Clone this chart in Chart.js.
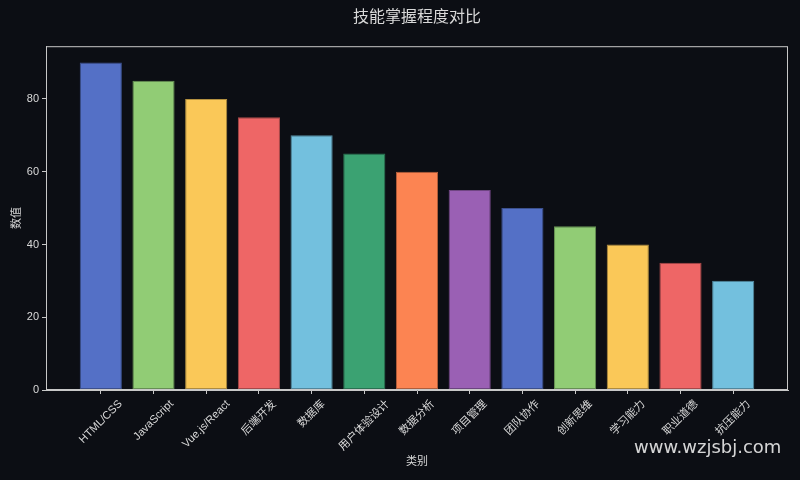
<!DOCTYPE html>
<html>
<head>
<meta charset="utf-8">
<script src="https://cdn.jsdelivr.net/npm/chart.js@4"></script>
<style>
  html, body { margin: 0; padding: 0; background: #0c0e14; }
  #wrap { position: relative; width: 800px; height: 480px; }
  #wm { position: absolute; left: 634px; top: 436px; font-family: "DejaVu Sans", sans-serif; font-size: 18px; color: rgba(235,235,235,0.9); }
</style>
</head>
<body>
<div id="wrap">
  <canvas id="c" width="800" height="480"></canvas>
  <div id="wm">www.wzjsbj.com</div>
</div>
<script>
const categories = ["HTML/CSS", "JavaScript", "Vue.js/React", "后端开发", "数据库", "用户体验设计", "数据分析", "项目管理", "团队协作", "创新思维", "学习能力", "职业道德", "抗压能力"];
const values = [90, 85, 80, 75, 70, 65, 60, 55, 50, 45, 40, 35, 30];
const palette = ["#5470c6", "#91cc75", "#fac858", "#ee6666", "#73c0de", "#3ba272", "#fc8452", "#9a60b4"];
const yTicks = [0, 20, 40, 60, 80];

const FONT = "'Liberation Sans', 'Noto Sans CJK SC', sans-serif";
const TEXT = "#d9d9d9";
const AXIS = "#c8c8c8";

function darken(hex, f) {
  const n = parseInt(hex.slice(1), 16);
  const r = Math.round(((n >> 16) & 255) * f), g = Math.round(((n >> 8) & 255) * f), b = Math.round((n & 255) * f);
  return `rgb(${r},${g},${b})`;
}
const fills = categories.map((_, i) => palette[i % palette.length]);
const edges = fills.map(c => darken(c, 0.72));

const frame = {
  id: 'frame',
  afterDraw(chart) {
    const { ctx, chartArea: a } = chart;
    ctx.save();
    ctx.strokeStyle = AXIS;
    ctx.lineWidth = 1;
    ctx.strokeRect(a.left + 0.5, a.top + 0.5, a.right - a.left - 1, a.bottom - a.top - 1);
    ctx.restore();
  }
};
const bg = {
  id: 'bg',
  beforeDraw(chart) {
    const { ctx } = chart;
    ctx.save();
    ctx.fillStyle = '#0c0e14';
    ctx.fillRect(0, 0, chart.width, chart.height);
    ctx.restore();
  }
};
// x tick labels rotated 45°, centred under each tick (rotated bounding box centred)
const xLabels = {
  id: 'xLabels',
  afterDraw(chart) {
    const { ctx } = chart;
    const xs = chart.scales.x;
    const top = chart.chartArea.bottom + 8;
    const c = Math.SQRT1_2;
    ctx.save();
    ctx.fillStyle = TEXT;
    ctx.font = `11px ${FONT}`;
    ctx.textAlign = 'center';
    ctx.textBaseline = 'middle';
    categories.forEach((lab, i) => {
      const x = xs.getPixelForValue(i);
      const w = ctx.measureText(lab).width;
      const h = 12;
      const bb = (w + h) * c;
      ctx.save();
      ctx.translate(x, top + bb / 2);
      ctx.rotate(-Math.PI / 4);
      ctx.fillText(lab, 0, 0);
      ctx.restore();
    });
    ctx.restore();
  }
};

new Chart(document.getElementById('c'), {
  type: 'bar',
  data: {
    datasets: [{
      data: values.map((v, i) => ({ x: i, y: v })),
      backgroundColor: fills,
      borderColor: edges,
      borderWidth: 1,
      borderSkipped: false,
      barPercentage: 0.8,
      categoryPercentage: 1.0
    }]
  },
  options: {
    responsive: false,
    animation: false,
    layout: { padding: { top: 0, right: 12, bottom: 0, left: 0 } },
    plugins: {
      legend: { display: false },
      tooltip: { enabled: false },
      title: {
        display: true,
        fullSize: false,
        text: '技能掌握程度对比',
        color: TEXT,
        font: { family: FONT, size: 16, weight: 'normal' },
        padding: { top: 8, bottom: 19 }
      }
    },
    scales: {
      x: {
        type: 'linear',
        offset: false,
        min: -1.04,
        max: 13.04,
        afterBuildTicks(scale) { scale.ticks = categories.map((_, i) => ({ value: i })); },
        afterFit(scale) { scale.height = 90; },
        ticks: {
          display: false,
          autoSkip: false,
          callback: (v) => categories[v]
        },
        grid: { offset: false, drawOnChartArea: false, color: AXIS, tickLength: 4 },
        border: { color: AXIS },
        title: {
          display: true,
          text: '类别',
          color: TEXT,
          font: { family: FONT, size: 11 },
          padding: { top: 0, bottom: 11 }
        }
      },
      y: {
        min: 0,
        max: 94.5,
        afterBuildTicks(scale) { scale.ticks = yTicks.map(v => ({ value: v })); },
        afterFit(scale) { scale.width = 46; },
        ticks: {
          color: TEXT,
          font: { family: FONT, size: 11 },
          padding: 3
        },
        grid: { drawOnChartArea: false, color: AXIS, tickLength: 4 },
        border: { color: AXIS },
        title: {
          display: true,
          text: '数值',
          color: TEXT,
          font: { family: FONT, size: 11 },
          padding: { top: 10, bottom: 0 }
        }
      }
    }
  },
  plugins: [bg, frame, xLabels]
});
</script>
</body>
</html>
